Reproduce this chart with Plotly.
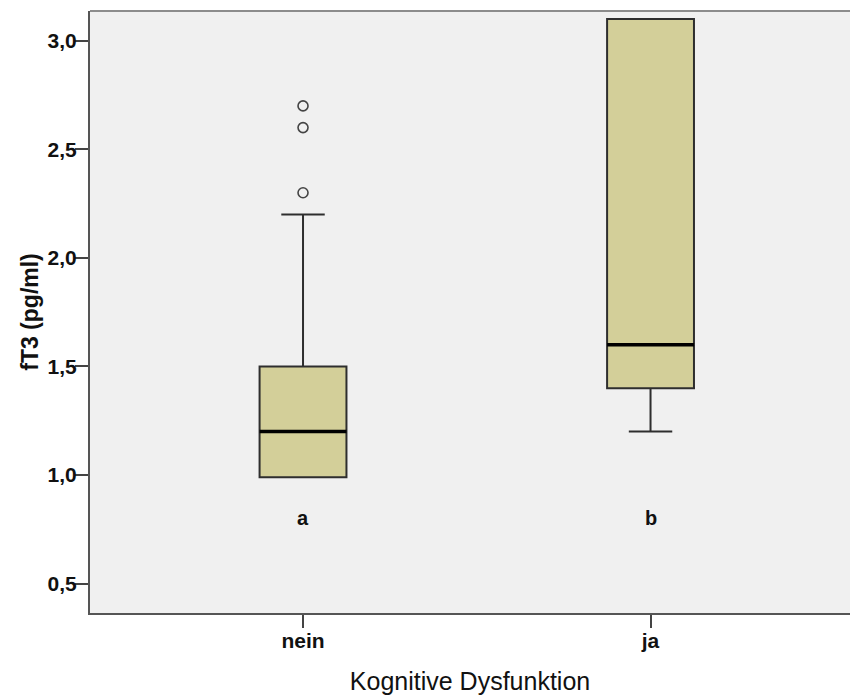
import plotly.graph_objects as go

# Data
categories = ["nein", "ja"]
cat_pos = [0, 1]
q1 = [0.99, 1.40]
median = [1.20, 1.60]
q3 = [1.50, 3.10]
lowerfence = [0.99, 1.20]
upperfence = [2.20, 3.10]
outlier_cat = [0, 0, 0]
outlier_vals = [2.30, 2.60, 2.70]
letters = ["a", "b"]
letter_y = [0.80, 0.80]
ytick_vals = [0.5, 1.0, 1.5, 2.0, 2.5, 3.0]
ytick_text = ["0,5", "1,0", "1,5", "2,0", "2,5", "3,0"]

box_w = 0.25
FILL = "#D3CF99"
LINE = "#2e2e2e"
FONT = "Liberation Sans, Arial, sans-serif"

fig = go.Figure()
fig.add_trace(go.Box(
    x=cat_pos, q1=q1, median=median, q3=q3,
    lowerfence=lowerfence, upperfence=upperfence,
    width=box_w, whiskerwidth=0.5,
    fillcolor=FILL, line=dict(color=LINE, width=2),
    boxpoints=False, showlegend=False, hoverinfo="skip",
))
# thicker median lines
for p, m in zip(cat_pos, median):
    fig.add_trace(go.Scatter(
        x=[p - box_w / 2, p + box_w / 2], y=[m, m], mode="lines",
        line=dict(color="#000000", width=3.5), showlegend=False, hoverinfo="skip",
    ))
fig.add_trace(go.Scatter(
    x=outlier_cat, y=outlier_vals, mode="markers",
    marker=dict(symbol="circle-open", size=10, color="#444444", line=dict(width=1.6)),
    showlegend=False, hoverinfo="skip",
))
for p, t, yv in zip(cat_pos, letters, letter_y):
    fig.add_annotation(x=p, y=yv, text="<b>%s</b>" % t, showarrow=False,
                       font=dict(family=FONT, size=20, color="#111111"))

fig.add_shape(type="line", xref="paper", yref="paper", x0=0, x1=1, y0=1, y1=1,
              line=dict(color="#8c8c8c", width=2))

fig.update_layout(
    width=850, height=695,
    margin=dict(l=90, r=0, t=11, b=82),
    paper_bgcolor="white", plot_bgcolor="#F0F0F0",
    font=dict(family=FONT, color="#111111"),
    xaxis=dict(
        range=[-0.613, 1.574], tickvals=cat_pos, ticktext=["<b>%s</b>" % c for c in categories],
        showgrid=False, zeroline=False, showline=True, linecolor="#555555", linewidth=2,
        ticks="outside", ticklen=13, tickwidth=2, tickcolor="#444444",
        ticklabelstandoff=-5,
        tickfont=dict(family=FONT, size=21, color="#111111"),
        title=dict(text="Kognitive Dysfunktion", font=dict(family=FONT, size=25, color="#111111"), standoff=21),
    ),
    yaxis=dict(
        range=[0.3645, 3.137], tickvals=ytick_vals, ticktext=["<b>%s</b>" % t for t in ytick_text],
        showgrid=False, zeroline=False, showline=True, linecolor="#555555", linewidth=2,
        ticks="outside", ticklen=13, tickwidth=2, tickcolor="#444444",
        ticklabelstandoff=-6,
        tickfont=dict(family=FONT, size=21, color="#111111"),
        title=dict(text="<b>fT3 (pg/ml)</b>", font=dict(family=FONT, size=23, color="#111111"), standoff=3),
    ),
)

fig.write_html("out.html", config={"displayModeBar": False},
               post_script="document.body.style.margin='0';document.body.style.padding='0';")
